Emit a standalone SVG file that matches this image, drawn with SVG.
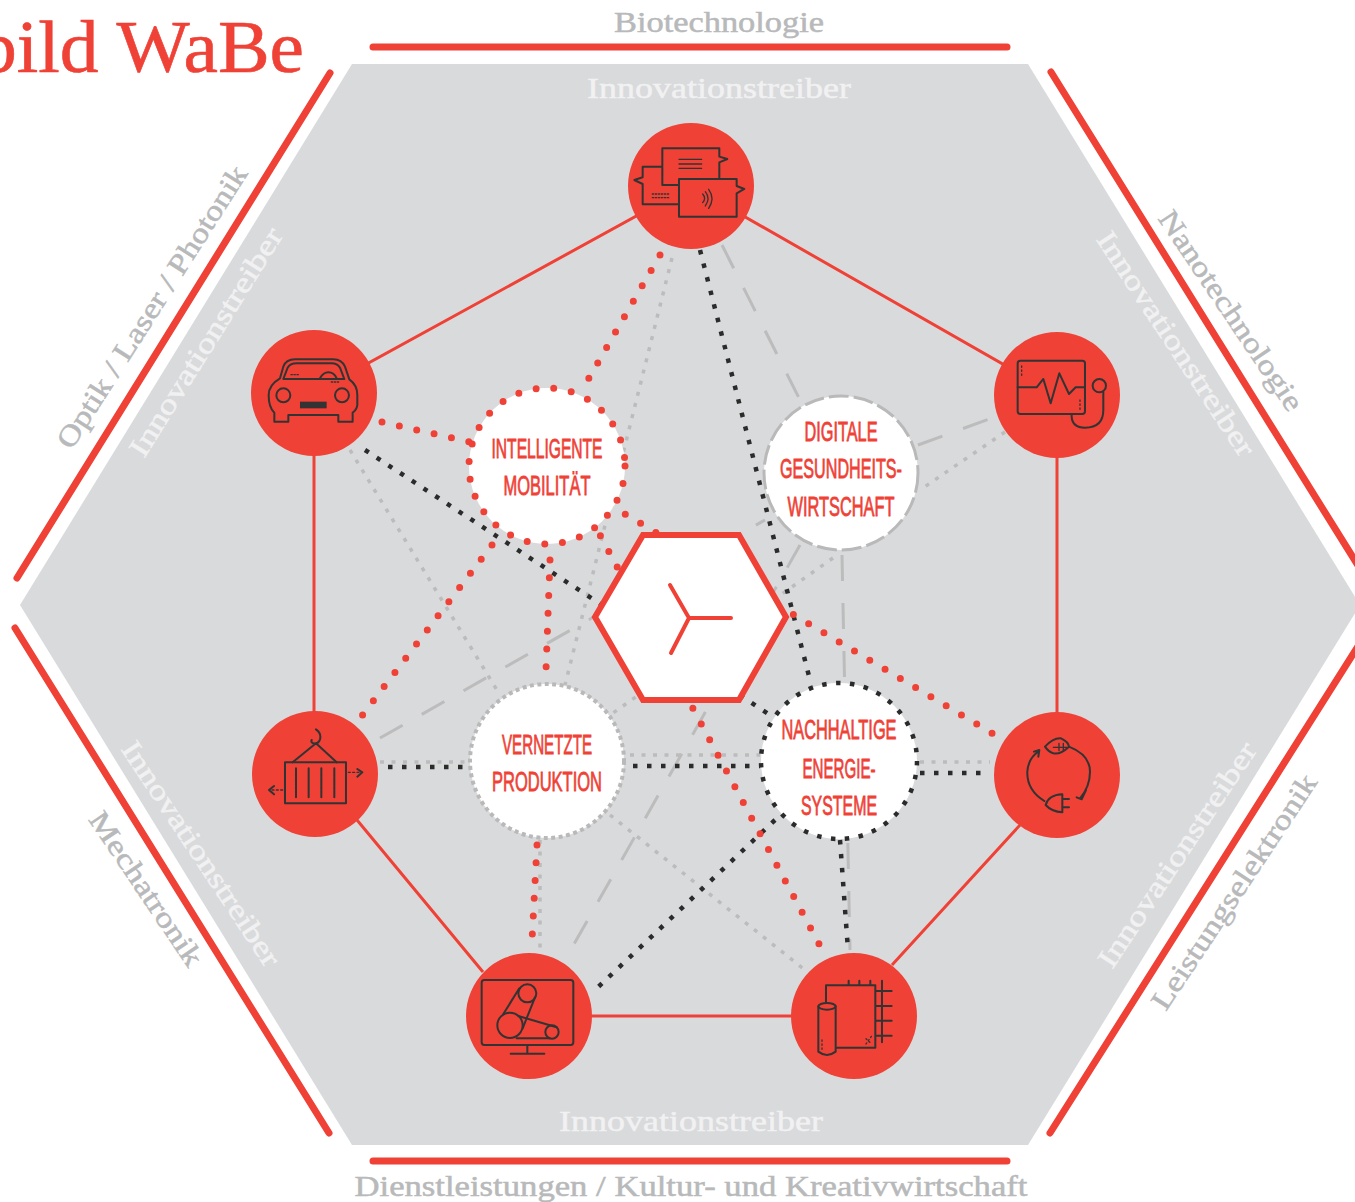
<svg xmlns="http://www.w3.org/2000/svg" width="1355" height="1202" viewBox="0 0 1355 1202">
<style>
.ser{font-family:"Liberation Serif",serif;stroke-width:.5}
.lab{fill:#b8b9ba;stroke:#b8b9ba;font-size:29px;text-anchor:middle}
.inn{fill:#f1f1f2;stroke:#f1f1f2;font-size:29px;text-anchor:middle}
.cap{font-family:"Liberation Sans",Arial,sans-serif;fill:#ef4136;stroke:#ef4136;stroke-width:.8;font-size:27px;text-anchor:middle}
.strip{stroke:#ef4136;stroke-width:7;stroke-linecap:round;fill:none}
.sol{stroke:#ef4136;stroke-width:3;fill:none}
.rd{stroke:#ef4136;stroke-width:7;stroke-linecap:round;stroke-dasharray:0 17.8;fill:none}
.bd{stroke:#2b2b2b;stroke-width:4.5;stroke-dasharray:4.5 9.5;fill:none}
.gd{stroke:#bcbcbc;stroke-width:3.5;stroke-dasharray:4 7.5;fill:none}
.gs{stroke:#bcbcbc;stroke-width:3;stroke-dasharray:26 22;fill:none}
.red{fill:#ef4136}
.ic{fill:none;stroke:#333;stroke-width:6;stroke-linejoin:round;stroke-linecap:round}
.th{stroke-width:4}
</style>
<rect width="1355" height="1202" fill="#fff"/>
<polygon points="352,64 1028,64 1360,605 1028,1145 352,1145 20,605" fill="#d9dadc"/>
<g id="title"><text x="-22" y="72" textLength="326" lengthAdjust="spacingAndGlyphs" font-family="Liberation Serif, serif" font-size="74" fill="#ef4136" stroke="#ef4136" stroke-width=".6">bild WaBe</text></g>
<g id="frame">
<path class="strip" d="M373,47H1007M373,1161H1007M330,73L17,578M15,628L329,1133M1051,72L1362,572M1050,1133L1362,640"/>
</g>
<g id="labels" class="ser">
<text class="lab" x="719" y="32" textLength="210" lengthAdjust="spacingAndGlyphs">Biotechnologie</text>
<text class="inn" x="719" y="98" textLength="264" lengthAdjust="spacingAndGlyphs">Innovationstreiber</text>
<text class="inn" x="691" y="1131" textLength="264" lengthAdjust="spacingAndGlyphs">Innovationstreiber</text>
<text class="lab" x="691" y="1196" textLength="673" lengthAdjust="spacingAndGlyphs">Dienstleistungen / Kultur- und Kreativwirtschaft</text>
<text class="lab" transform="translate(160,312) rotate(-57.5)" textLength="329" lengthAdjust="spacingAndGlyphs">Optik / Laser / Photonik</text>
<text class="inn" transform="translate(214,347) rotate(-58)" textLength="264" lengthAdjust="spacingAndGlyphs">Innovationstreiber</text>
<text class="lab" transform="translate(1223,316) rotate(56)" textLength="235" lengthAdjust="spacingAndGlyphs">Nanotechnologie</text>
<text class="inn" transform="translate(1168,349) rotate(56.5)" textLength="263" lengthAdjust="spacingAndGlyphs">Innovationstreiber</text>
<text class="lab" transform="translate(138,894) rotate(56)" textLength="180" lengthAdjust="spacingAndGlyphs">Mechatronik</text>
<text class="inn" transform="translate(193,859) rotate(56.5)" textLength="264" lengthAdjust="spacingAndGlyphs">Innovationstreiber</text>
<text class="inn" transform="translate(1185,860) rotate(-56.5)" textLength="264" lengthAdjust="spacingAndGlyphs">Innovationstreiber</text>
<text class="lab" transform="translate(1242,897) rotate(-56.5)" textLength="276" lengthAdjust="spacingAndGlyphs">Leistungselektronik</text>
</g>
<g id="connectors">
<path class="sol" d="M1057,395L691,186L314,393V774M357,820L483,972M529,1016H854M892,965L1020,825M1057,775V395"/>
<path class="gd" d="M672,258L565,685M350,450L500,695M1005,432L920,490M833,558L613,713M380,762H465M630,755H760M920,762H990M540,840V950M610,815L805,970"/>
<path class="gs" d="M722,245L800,400M918,445L1000,415M380,738L765,520M800,545L565,960M842,555L850,950"/>
<path class="bd" d="M365,450L770,715M700,250L810,680M633,766H760M388,767H465M920,773H990M775,820L595,990M840,840L848,950"/>
<path class="rd" d="M660,255L585,385M382,422L470,442M492,545L361,717M550,560L546,670M592,520L825,955M610,505L1000,738M537,845L532,940"/>
</g>
<g id="node-top"><circle class="red" cx="691" cy="186" r="63"/>
<g transform="translate(600,100) scale(.3333)"><path class="ic" d="M237,255H187V145H358V170L382,177L358,187V235M187,200H128V232L103,240L128,252V313H237M237,237H410V258L433,267L410,280V350H237Z"/><path class="ic th" d="M237,178H305M237,192H305M237,205H305M308,282Q320,295 308,308M316,275Q332,295 316,318M326,268Q346,295 326,325"/><path class="ic th" stroke-dasharray="4 5" d="M157,282H207M157,293H207"/></g></g>
<g id="node-car"><circle class="red" cx="314" cy="393" r="63"/>
<g transform="translate(240,320) scale(.3333)"><path class="ic" d="M120,175L130,140Q138,118 165,118H280Q305,118 315,140L328,178Q352,195 352,225V255Q350,270 338,278V305H295V285H145V305H103V278Q86,262 86,225Q86,195 120,175ZM130,177L143,143Q150,130 170,130H275Q292,130 300,143L313,177ZM240,175Q250,157 265,157Q282,157 290,175"/><circle class="ic" cx="130" cy="226" r="21"/><circle class="ic" cx="306" cy="226" r="21"/><rect x="180" y="245" width="80" height="20" fill="#333"/><path class="ic th" stroke-dasharray="4 5" d="M153,164H180M274,186H300"/></g></g>
<g id="node-monitor"><circle class="red" cx="1057" cy="395" r="63"/>
<g transform="translate(985,320) scale(.3333)"><rect class="ic" x="98" y="122" width="202" height="160" rx="8"/><path class="ic" d="M98,202H155L175,177L197,250L223,160L252,222L272,202H300M260,282V290Q262,323 300,323Q355,323 355,270V215"/><circle class="ic" cx="343" cy="197" r="20"/><path class="ic th" stroke-dasharray="4 8" d="M110,138V166M285,240V268"/></g></g>
<g id="node-container"><circle class="red" cx="315" cy="774" r="63"/>
<g transform="translate(240,700) scale(.3333)"><rect class="ic" x="135" y="187" width="183" height="123"/><path class="ic" d="M168,205V292M206,205V292M244,205V292M283,205V292M158,187L228,130L290,187M228,88Q245,100 240,118Q235,133 220,130Q212,127 215,120M352,207L367,217L352,230M102,258L87,270L102,283"/><path class="ic th" stroke-dasharray="6 7" d="M325,217H360M128,270H95"/></g></g>
<g id="node-energy"><circle class="red" cx="1057" cy="775" r="63"/>
<g transform="translate(985,700) scale(.3333)"><path class="ic" d="M180,140Q205,113 228,115Q250,125 252,140Q225,165 205,160Q190,155 180,140ZM252,140Q315,165 315,215Q315,260 285,295M275,292L290,298L303,270M178,303Q125,270 127,215Q130,175 160,155M147,155L163,150L160,170M232,283Q190,285 182,315Q200,335 232,337ZM232,297H252M232,322H252"/><path class="ic th" d="M205,142H245M222,130V152M235,130V152"/></g></g>
<g id="node-belt"><circle class="red" cx="529" cy="1016" r="63"/>
<g transform="translate(455,940) scale(.3333)"><rect class="ic" x="80" y="120" width="275" height="195" rx="8"/><path class="ic" d="M217,315V340M167,341H268M145,222L193,145M240,172L203,265M190,228L305,262M185,295H285"/><circle class="ic" cx="165" cy="256" r="38"/><circle class="ic" cx="217" cy="160" r="27"/><circle class="ic" cx="291" cy="276" r="20"/></g></g>
<g id="node-tank"><circle class="red" cx="854" cy="1016" r="63"/>
<g transform="translate(780,940) scale(.3333)"><path class="ic" d="M138,188V136H286V323H168M206,122V136M238,122V136M271,122V136M306,122V307M286,153H335M286,198H335M286,242H335M286,287H335M115,199V335Q141,355 167,335V199"/><ellipse class="ic" cx="141" cy="199" rx="26" ry="10"/><path class="ic th" stroke-dasharray="4 8" d="M126,300V328M258,312L275,288M258,296L275,312"/></g></g>
<g id="hub-mobility"><circle cx="547" cy="466" r="78" fill="#fff"/><circle cx="547" cy="466" r="78" class="rd" stroke-dasharray="0 18.1"/>
<text class="cap" x="547" y="458" textLength="111" lengthAdjust="spacingAndGlyphs">INTELLIGENTE</text><text class="cap" x="547" y="495" textLength="87" lengthAdjust="spacingAndGlyphs">MOBILITÄT</text></g>
<g id="hub-health"><circle cx="841" cy="473" r="77" fill="#fff" stroke="#b9b9b9" stroke-width="3" stroke-dasharray="20 5"/>
<text class="cap" x="841" y="441" textLength="73" lengthAdjust="spacingAndGlyphs">DIGITALE</text><text class="cap" x="841" y="478" textLength="122" lengthAdjust="spacingAndGlyphs">GESUNDHEITS-</text><text class="cap" x="841" y="516" textLength="107" lengthAdjust="spacingAndGlyphs">WIRTSCHAFT</text></g>
<g id="hub-production"><circle cx="547" cy="761" r="77" fill="#fff" stroke="#b9b9b9" stroke-width="4" stroke-dasharray="4 3.5"/>
<text class="cap" x="547" y="754" textLength="90" lengthAdjust="spacingAndGlyphs">VERNETZTE</text><text class="cap" x="547" y="791" textLength="110" lengthAdjust="spacingAndGlyphs">PRODUKTION</text></g>
<g id="hub-energy"><circle cx="839" cy="761" r="78" fill="#fff"/><circle cx="839" cy="761" r="78" class="bd" stroke-dasharray="4.5 9.5"/>
<text class="cap" x="839" y="739" textLength="115" lengthAdjust="spacingAndGlyphs">NACHHALTIGE</text><text class="cap" x="839" y="778" textLength="73" lengthAdjust="spacingAndGlyphs">ENERGIE-</text><text class="cap" x="839" y="815" textLength="76" lengthAdjust="spacingAndGlyphs">SYSTEME</text></g>
<g id="center"><polygon points="595,617 643,535 739,535 786,617 739,700 643,700" fill="#fff" stroke="#ef4136" stroke-width="6"/>
<path d="M670,585L689,618L671,653M689,618H731" fill="none" stroke="#ef4136" stroke-width="4" stroke-linecap="round"/></g>
</svg>
